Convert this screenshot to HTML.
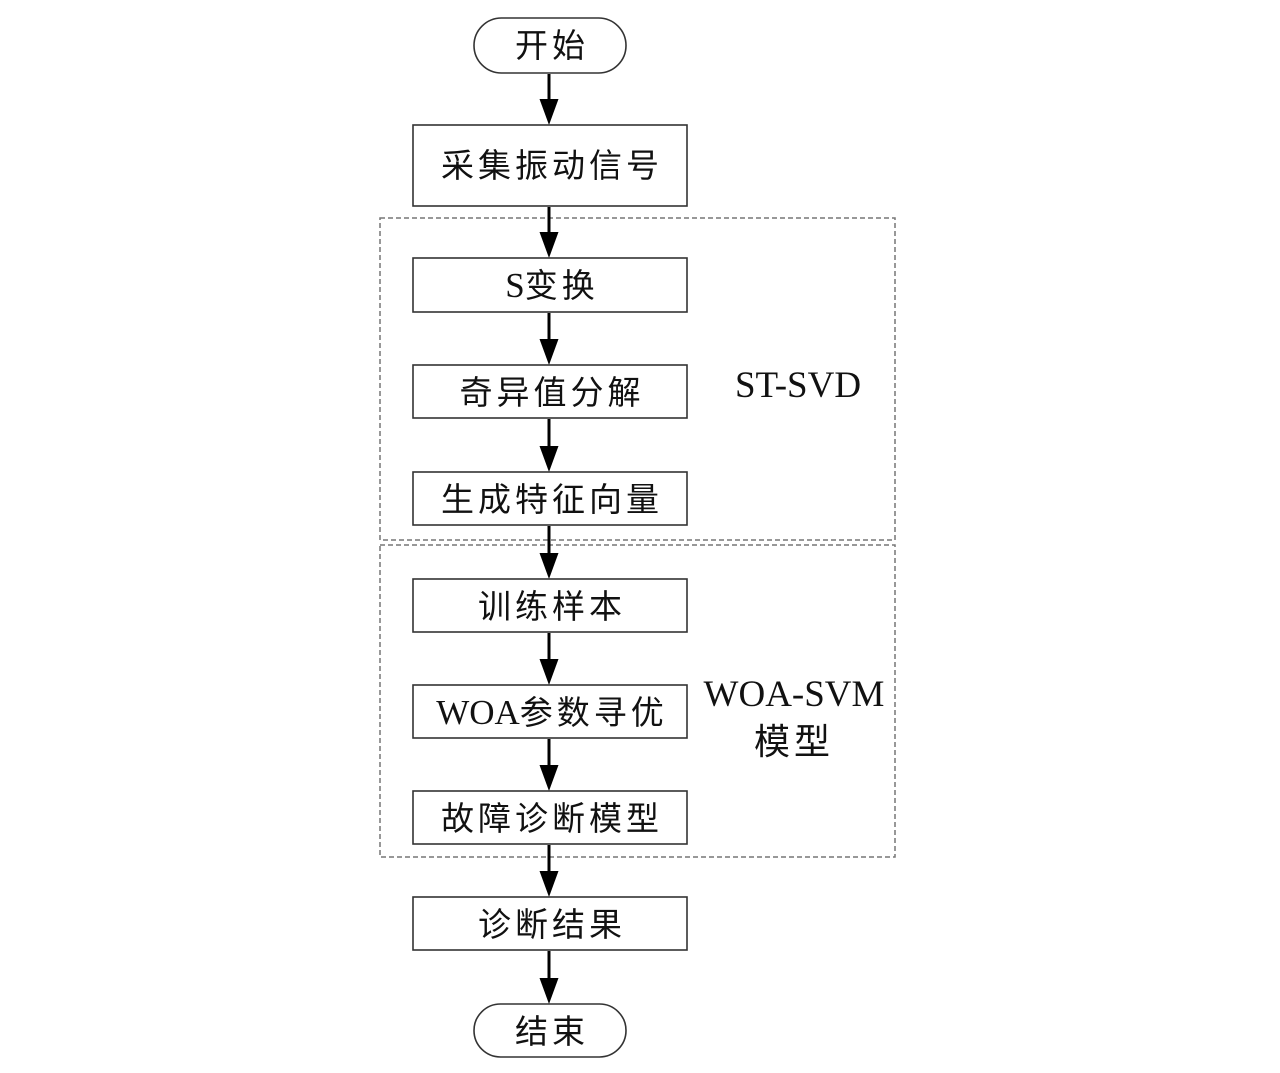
<!DOCTYPE html>
<html><head><meta charset="utf-8"><style>
html,body{margin:0;padding:0;background:#fff;}
svg{display:block}
.c{font-family:"Liberation Serif","Noto Sans CJK SC",sans-serif;font-size:33px;fill:#111;text-anchor:middle;letter-spacing:4px}
.l{letter-spacing:0;font-size:35px}
.t{font-family:"Liberation Serif","Noto Serif CJK SC",serif;font-size:37px;fill:#111;text-anchor:middle}
.b{fill:#fff;stroke:#333;stroke-width:1.6}
</style></head><body>
<svg width="1280" height="1073" viewBox="0 0 1280 1073">
<rect x="380" y="218" width="515" height="322" fill="none" stroke="#777" stroke-width="1.5" stroke-dasharray="5,3"/>
<rect x="380" y="545" width="515" height="312" fill="none" stroke="#777" stroke-width="1.5" stroke-dasharray="5,3"/>
<g stroke="#000" stroke-width="3">
<line x1="549" y1="74" x2="549" y2="102"/>
<line x1="549" y1="207" x2="549" y2="235"/>
<line x1="549" y1="313" x2="549" y2="342"/>
<line x1="549" y1="419" x2="549" y2="449"/>
<line x1="549" y1="526" x2="549" y2="556"/>
<line x1="549" y1="633" x2="549" y2="662"/>
<line x1="549" y1="739" x2="549" y2="768"/>
<line x1="549" y1="845" x2="549" y2="874"/>
<line x1="549" y1="951" x2="549" y2="981"/>
</g>
<g fill="#000">
<polygon points="539.5,99 558.5,99 549,125"/>
<polygon points="539.5,232 558.5,232 549,258"/>
<polygon points="539.5,339 558.5,339 549,365"/>
<polygon points="539.5,446 558.5,446 549,472"/>
<polygon points="539.5,553 558.5,553 549,579"/>
<polygon points="539.5,659 558.5,659 549,685"/>
<polygon points="539.5,765 558.5,765 549,791"/>
<polygon points="539.5,871 558.5,871 549,897"/>
<polygon points="539.5,978 558.5,978 549,1004"/>
</g>
<rect class="b" x="474" y="18" width="152" height="55" rx="27.5"/>
<rect class="b" x="413" y="125" width="274" height="81"/>
<rect class="b" x="413" y="258" width="274" height="54"/>
<rect class="b" x="413" y="365" width="274" height="53"/>
<rect class="b" x="413" y="472" width="274" height="53"/>
<rect class="b" x="413" y="579" width="274" height="53"/>
<rect class="b" x="413" y="685" width="274" height="53"/>
<rect class="b" x="413" y="791" width="274" height="53"/>
<rect class="b" x="413" y="897" width="274" height="53"/>
<rect class="b" x="474" y="1004" width="152" height="53" rx="26.5"/>
<text class="c" x="552" y="57">开始</text>
<text class="c" x="552" y="177">采集振动信号</text>
<text class="c" x="552" y="297"><tspan class="l">S</tspan>变换</text>
<text class="c" x="552" y="404">奇异值分解</text>
<text class="c" x="552" y="511">生成特征向量</text>
<text class="c" x="552" y="618">训练样本</text>
<text class="c" x="552" y="724"><tspan class="l">WOA</tspan>参数寻优</text>
<text class="c" x="552" y="830">故障诊断模型</text>
<text class="c" x="552" y="936">诊断结果</text>
<text class="c" x="552" y="1043">结束</text>
<text class="t" x="798" y="397">ST-SVD</text>
<text class="t" x="794" y="706">WOA-SVM</text>
<text class="c" x="794" y="754" style="font-size:36px">模型</text>
</svg>
</body></html>
